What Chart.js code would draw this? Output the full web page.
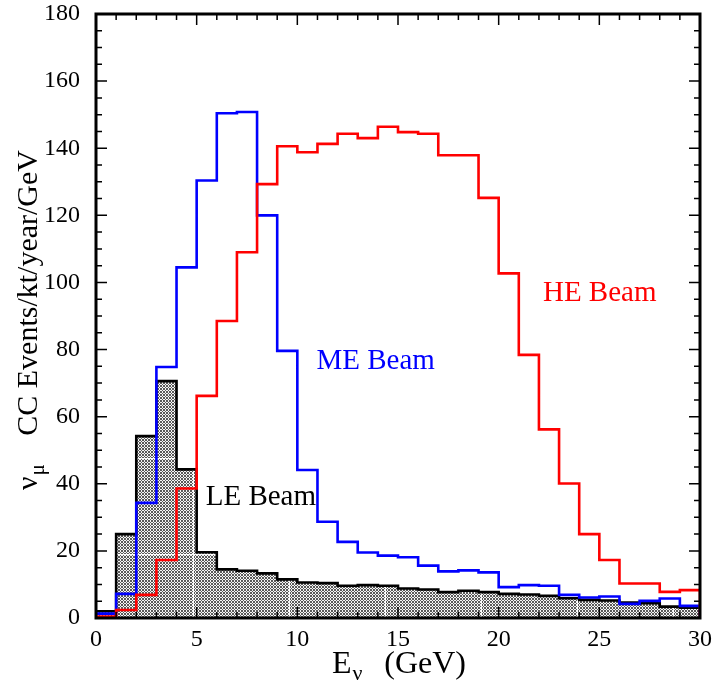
<!DOCTYPE html>
<html>
<head>
<meta charset="utf-8">
<script src="https://cdn.jsdelivr.net/npm/chart.js@4"></script>
<style>
  body { margin: 0; background: #fff; }
</style>
</head>
<body>
<canvas id="myChart" width="713" height="687"></canvas>
<script>
// 1 GeV bins from 0 to 30
var binEdges = [0,1,2,3,4,5,6,7,8,9,10,11,12,13,14,15,16,17,18,19,20,21,22,23,24,25,26,27,28,29,30];
var leBeam = [2, 25, 54.2, 70.6, 44.3, 19.6, 14.5, 14.1, 13.3, 11.5, 10.6, 10.4, 9.6, 9.8, 9.6,
              8.8, 8.5, 7.7, 8.1, 7.7, 7.2, 7.0, 6.6, 5.9, 5.4, 5.2, 4.6, 4.4, 3.4, 3.1];
var meBeam = [1.3, 7.2, 34.3, 74.8, 104.5, 130.4, 150.4, 150.8, 120, 79.6, 44.1, 28.7, 22.7, 19.5, 18.6,
              18.1, 15.6, 13.9, 14.2, 13.6, 9.2, 9.8, 9.6, 6.9, 6.1, 6.4, 4.2, 5.1, 5.8, 3.6];
var heBeam = [0.4, 2.4, 6.9, 17.3, 38.6, 66.2, 88.5, 109, 129.3, 140.6, 138.8, 141.3, 144.3, 143.0, 146.4,
              144.8, 144.3, 137.9, 137.9, 125.2, 102.7, 78.4, 56.2, 40.1, 25.0, 17.3, 10.3, 10.3, 7.8, 8.3];
var xTicks = [0, 5, 10, 15, 20, 25, 30];
var yTicks = [0, 20, 40, 60, 80, 100, 120, 140, 160, 180];
var beamNames = ['LE Beam', 'ME Beam', 'HE Beam'];
// label anchors in data units (x in GeV, y in events)
var labelX = [5.45, 10.95, 22.2];
var labelY = [33.7, 74.2, 94.5];

var serif = "'Liberation Serif', 'Times New Roman', serif";

// step histogram -> points at bin edges, closed down to zero at the end
function histPoints(vals) {
  var pts = binEdges.map(function (e, i) {
    return { x: e, y: i < vals.length ? vals[i] : vals[vals.length - 1] };
  });
  pts.push({ x: binEdges[binEdges.length - 1], y: 0 });
  return pts;
}

// grey crosshatch with the faint white seams of the original fill
function makeHatch() {
  var n = 96;
  var tile = document.createElement('canvas');
  tile.width = n; tile.height = n;
  var c = tile.getContext('2d');
  var img = c.createImageData(n, n);
  for (var j = 0; j < n; j++) {
    for (var i = 0; i < n; i++) {
      var dark = ((i + j) % 3 === 0) || ((i - j + 3 * n) % 3 === 0);
      var seam = (i === 1 && j % 3 !== 0) || (j === 74 && i % 3 !== 0);
      var v = seam ? 255 : (dark ? 90 : 245);
      var k = (j * n + i) * 4;
      img.data[k] = v; img.data[k + 1] = v; img.data[k + 2] = v; img.data[k + 3] = 255;
    }
  }
  c.putImageData(img, 0, 0);
  return c.createPattern(tile, 'repeat');
}

var ctx = document.getElementById('myChart');
var hatch = makeHatch();

var frame = {
  id: 'frame',
  afterDraw: function (chart) {
    var g = chart.ctx, a = chart.chartArea, xs = chart.scales.x, ys = chart.scales.y;
    g.save();
    g.strokeStyle = '#000';
    g.lineWidth = 1.5;
    g.beginPath();
    for (var e = 0; e <= 30; e++) {
      var px = xs.getPixelForValue(e);
      var len = e % 5 === 0 ? 11 : 6;
      g.moveTo(px, a.bottom); g.lineTo(px, a.bottom - len);
      g.moveTo(px, a.top); g.lineTo(px, a.top + len);
    }
    for (var v = 0; v <= 180; v += 5) {
      var py = ys.getPixelForValue(v);
      var l2 = v % 20 === 0 ? 11 : 6;
      g.moveTo(a.left, py); g.lineTo(a.left + l2, py);
      g.moveTo(a.right, py); g.lineTo(a.right - l2, py);
    }
    g.stroke();
    g.lineWidth = 3;
    g.strokeRect(a.left, a.top, a.right - a.left, a.bottom - a.top);

    // beam labels
    var colors = ['#000', '#0000ff', '#ff0000'];
    g.font = '29px ' + serif;
    g.textBaseline = 'alphabetic';
    g.textAlign = 'left';
    for (var i = 0; i < beamNames.length; i++) {
      g.fillStyle = colors[i];
      g.fillText(beamNames[i], xs.getPixelForValue(labelX[i]), ys.getPixelForValue(labelY[i]));
    }

    // x title: E_nu (GeV)
    var cx = (a.left + a.right) / 2;
    var by = 673;
    g.fillStyle = '#000';
    g.font = '32px ' + serif;
    var w1 = g.measureText('E').width;
    g.fillText('E', cx - 66, by);
    g.font = '22px ' + serif;
    g.fillText('\u03bd', cx - 66 + w1 + 1, by + 7);
    g.font = '32px ' + serif;
    g.textAlign = 'right';
    g.fillText('(GeV)', cx + 68, by);

    // y title: nu_mu CC Events/kt/year/GeV
    g.translate(37, 0);
    g.rotate(-Math.PI / 2);
    g.font = '30px ' + serif;
    g.textAlign = 'left';
    g.fillText('\u03bd', -490, 0);
    var wn = g.measureText('\u03bd').width;
    g.font = '21px ' + serif;
    g.fillText('\u03bc', -490 + wn + 1, 7);
    g.font = '30px ' + serif;
    g.textAlign = 'right';
    g.fillText('CC Events/kt/year/GeV', -150, 0);
    g.restore();
  }
};

var myChart = new Chart(ctx, {
  type: 'line',
  data: {
    datasets: [{
      label: beamNames[2],
      data: histPoints(heBeam),
      borderColor: '#ff0000',
      borderWidth: 2.6,
      fill: false,
      order: 1
    }, {
      label: beamNames[1],
      data: histPoints(meBeam),
      borderColor: '#0000ff',
      borderWidth: 2.6,
      fill: false,
      order: 2
    }, {
      label: beamNames[0],
      data: histPoints(leBeam),
      borderColor: '#000',
      borderWidth: 2.6,
      backgroundColor: hatch,
      fill: 'origin',
      order: 3
    }]
  },
  options: {
    responsive: false,
    animation: false,
    elements: {
      line: { stepped: true, tension: 0, borderJoinStyle: 'miter' },
      point: { radius: 0, hoverRadius: 0 }
    },
    layout: { padding: { left: 0, top: 14, right: 13, bottom: 0 } },
    plugins: { legend: { display: false }, tooltip: { enabled: false } },
    scales: {
      x: {
        type: 'linear',
        min: 0, max: 30,
        afterFit: function (s) { s.height = 69; s.paddingLeft = 0; s.paddingRight = 0; },
        afterBuildTicks: function (s) { s.ticks = xTicks.map(function (v) { return { value: v }; }); },
        grid: { display: false, drawTicks: false },
        border: { display: false },
        ticks: { color: '#000', padding: 7, maxRotation: 0, font: { family: serif, size: 24 } }
      },
      y: {
        type: 'linear',
        min: 0, max: 180,
        afterFit: function (s) { s.width = 96; s.paddingTop = 0; s.paddingBottom = 0; },
        afterBuildTicks: function (s) { s.ticks = yTicks.map(function (v) { return { value: v }; }); },
        grid: { display: false, drawTicks: false },
        border: { display: false },
        ticks: { color: '#000', padding: 16, font: { family: serif, size: 24 } }
      }
    }
  },
  plugins: [frame]
});
</script>
</body>
</html>
